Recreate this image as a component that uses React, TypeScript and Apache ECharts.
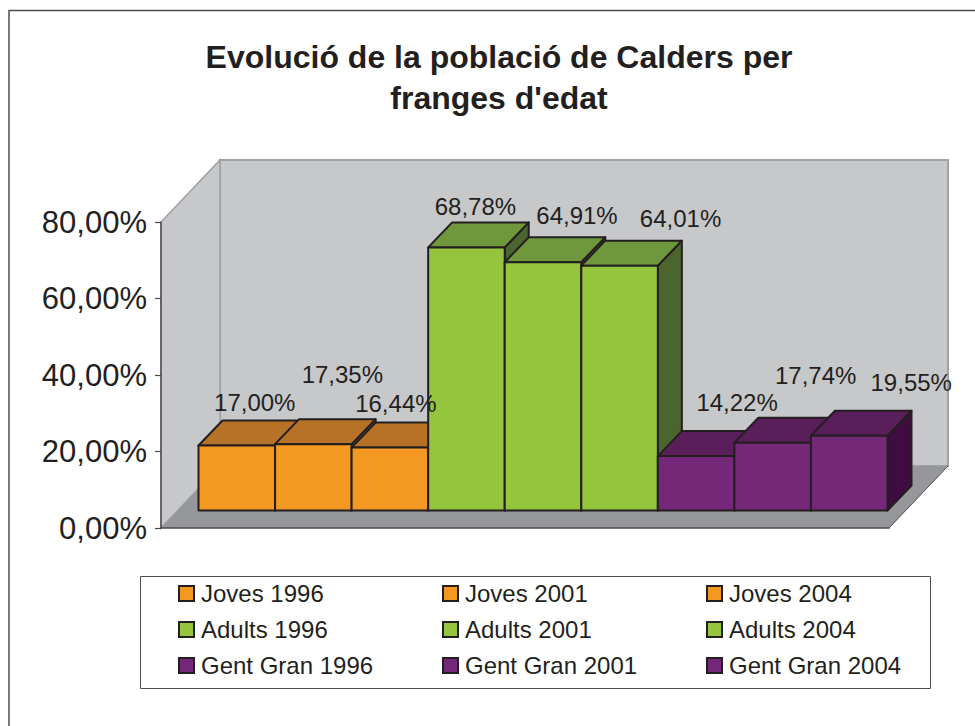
import React, { useEffect, useRef } from "react";
import * as echarts from "echarts";

const chartTitle = "Evolució de la població de Calders per\nfranges d'edat";
const seriesNames = [
  "Joves 1996", "Joves 2001", "Joves 2004",
  "Adults 1996", "Adults 2001", "Adults 2004",
  "Gent Gran 1996", "Gent Gran 2001", "Gent Gran 2004",
];
const seriesValues = [17.0, 17.35, 16.44, 68.78, 64.91, 64.01, 14.22, 17.74, 19.55];
const groupColors = [
  { front: "#f39821", top: "#b87228", side: "#7c4d1c" },
  { front: "#95c43d", top: "#6f973b", side: "#4c642d" },
  { front: "#762878", top: "#5a1f5a", side: "#3f0c42" },
];

const FONT = "Liberation Sans";
const INK = "#231f20";
const DEPTH_X = 24;
const DEPTH_Y = 25;
const fmt = (v: number) => v.toFixed(2).replace(".", ",") + "%";
// Hand placement of each data label relative to its bar's top centre
const labelNudge = [
  [18, -43], [29, -70], [6, -44], [9, -41], [34, -47], [61, -47], [41, -54], [43, -67], [62, -53],
];

function buildOption() {
  const series = seriesNames.map((name, i) => {
    const c = groupColors[Math.floor(i / 3)];
    return {
      type: "custom",
      name,
      coordinateSystem: "cartesian2d",
      xAxisIndex: 1,
      yAxisIndex: 1,
      silent: true,
      itemStyle: { color: c.front, borderColor: INK, borderWidth: 1.5 },
      data: [[i, seriesValues[i]]],
      renderItem: (_p: any, api: any) => {
        const idx = api.value(0);
        const top = api.coord([idx, api.value(1)]);
        const base = api.coord([idx, 0]);
        const w = api.size([1, 0])[0];
        const x0 = top[0] - w / 2;
        const x1 = top[0] + w / 2;
        const y0 = top[1];
        const y1 = base[1];
        const stroke = { stroke: INK, lineWidth: 2, lineJoin: "round" };
        const nudge = labelNudge[i];
        return {
          type: "group",
          children: [
            {
              type: "polygon",
              shape: { points: [[x1, y1], [x1, y0], [x1 + DEPTH_X, y0 - DEPTH_Y], [x1 + DEPTH_X, y1 - DEPTH_Y]] },
              style: { fill: c.side, ...stroke },
            },
            {
              type: "polygon",
              shape: { points: [[x0, y0], [x1, y0], [x1 + DEPTH_X, y0 - DEPTH_Y], [x0 + DEPTH_X, y0 - DEPTH_Y]] },
              style: { fill: c.top, ...stroke },
            },
            {
              type: "polygon",
              shape: { points: [[x0, y1], [x1, y1], [x1, y0], [x0, y0]] },
              style: { fill: c.front, ...stroke },
            },
            {
              type: "text",
              z2: 100,
              style: {
                x: top[0] + nudge[0],
                y: y0 + nudge[1],
                text: fmt(api.value(1)),
                font: `24px "${FONT}"`,
                fill: INK,
                align: "center",
                verticalAlign: "middle",
              },
            },
          ],
        };
      },
    };
  });

  const legends = seriesNames.map((name, i) => ({
    data: [name],
    orient: "horizontal",
    left: 178 + (i % 3) * 264,
    top: 581.5 + Math.floor(i / 3) * 36,
    padding: 0,
    itemWidth: 15,
    itemHeight: 15,
    itemGap: 0,
    selectedMode: false,
    icon: "rect",
    textStyle: { fontFamily: FONT, fontSize: 24, color: INK, padding: [0, 0, 5, 2] },
  }));

  return {
    animation: false,
    backgroundColor: "#ffffff",
    title: {
      text: chartTitle,
      left: 499,
      textAlign: "center",
      top: 36,
      padding: 0,
      textStyle: { fontFamily: FONT, fontWeight: "bold", fontSize: 32, color: INK, lineHeight: 41 },
    },
    grid: [
      { left: 161, top: 222, width: 728, height: 306 },
      { left: 198.5, top: 204.5, width: 689, height: 306 },
    ],
    xAxis: [
      {
        gridIndex: 0,
        type: "category",
        data: [""],
        z: 1,
        axisLine: { lineStyle: { color: "#4d4d4f", width: 1.5 } },
        axisTick: { show: false },
        axisLabel: { show: false },
      },
      {
        gridIndex: 1,
        type: "category",
        data: seriesNames,
        show: false,
      },
    ],
    yAxis: [
      {
        gridIndex: 0,
        type: "value",
        min: 0,
        max: 80,
        interval: 20,
        z: 1,
        axisLine: { show: true, lineStyle: { color: "#4d4d4f", width: 1.5 } },
        axisTick: { show: true, length: 6, lineStyle: { color: "#4d4d4f", width: 1.2 } },
        splitLine: { show: false },
        axisLabel: {
          fontFamily: FONT,
          fontSize: 31,
          color: INK,
          margin: 14,
          padding: [3, 0, 0, 0],
          formatter: (v: number) => fmt(v),
        },
      },
      { gridIndex: 1, type: "value", min: 0, max: 80, interval: 20, show: false },
    ],
    legend: legends,
    graphic: {
      elements: [
        { type: "polyline", shape: { points: [[9, 726], [9, 10.5], [975, 10.5]] }, style: { fill: "none", stroke: "#4d4d4f", lineWidth: 1.5 } },
        { type: "rect", shape: { x: 220, y: 160, width: 728, height: 306 }, style: { fill: "#c7c8ca", stroke: "#a0a2a5", lineWidth: 2 } },
        { type: "polygon", shape: { points: [[161, 528], [161, 222], [220, 160], [220, 466]] }, style: { fill: "#c7c8ca", stroke: "#a0a2a5", lineWidth: 1.5 } },
        { type: "polygon", shape: { points: [[161, 528], [220, 466], [948, 466], [889, 528]] }, style: { fill: "#96979a" } },
        { type: "line", shape: { x1: 889, y1: 528, x2: 948, y2: 466 }, style: { stroke: "#4d4d4f", lineWidth: 1 } },
        { type: "rect", shape: { x: 140.5, y: 576.5, width: 790, height: 112 }, style: { fill: "#ffffff", stroke: "#4d4d4f", lineWidth: 1 } },
      ],
    },
    series,
  };
}

export default function App() {
  const ref = useRef<HTMLDivElement>(null);
  useEffect(() => {
    const chart = echarts.init(ref.current!, undefined, { renderer: "svg" });
    chart.setOption(buildOption() as any);
    return () => chart.dispose();
  }, []);
  return <div ref={ref} style={{ position: "absolute", left: 0, top: 0, width: 975, height: 726 }} />;
}
